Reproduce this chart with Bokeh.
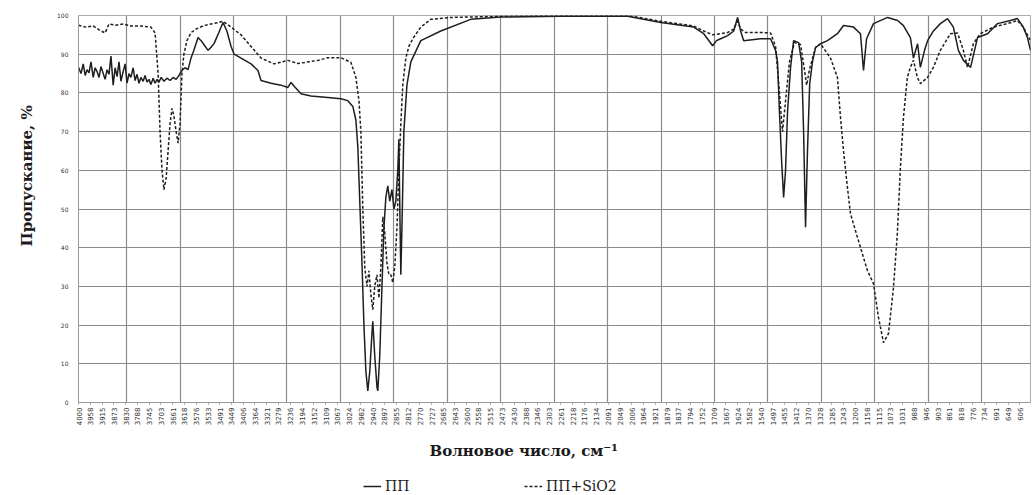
import math
from bokeh.plotting import figure
from bokeh.layouts import column
from bokeh.models import (Range1d, FixedTicker, NumeralTickFormatter, Legend,
                          LegendItem, Title)
from bokeh.embed import file_html
from bokeh.resources import INLINE

# ---- data: IR transmission spectra (wavenumber, cm-1 ; transmittance, %) ----
wn_pp = [4000, 3991, 3983, 3976, 3969, 3962, 3955, 3947, 3940, 3933, 3926, 3919,
         3911, 3904, 3897, 3890, 3883, 3875, 3868, 3861, 3854, 3847, 3839, 3832,
         3825, 3818, 3811, 3803, 3796, 3789, 3782, 3775, 3767, 3760, 3753, 3746,
         3739, 3731, 3724, 3717, 3710, 3702, 3692, 3681, 3670, 3659, 3648, 3638,
         3627, 3616, 3605, 3594, 3584, 3569, 3558, 3548, 3533, 3522, 3511, 3494,
         3479, 3465, 3450, 3439, 3414, 3378, 3353, 3342, 3306, 3270, 3245, 3234,
         3220, 3198, 3162, 3101, 3054, 3029, 3011, 3000, 2993, 2986, 2978, 2971,
         2964, 2957, 2950, 2942, 2939, 2932, 2924, 2921, 2914, 2906, 2899, 2892,
         2885, 2878, 2870, 2863, 2856, 2849, 2845, 2842, 2838, 2834, 2827, 2816,
         2802, 2766, 2694, 2586, 2478, 2261, 2020, 1901, 1782, 1746, 1714, 1700,
         1685, 1660, 1638, 1624, 1613, 1602, 1541, 1505, 1487, 1480, 1473, 1465,
         1458, 1451, 1444, 1433, 1422, 1404, 1393, 1386, 1379, 1372, 1364, 1354,
         1343, 1325, 1300, 1264, 1242, 1206, 1181, 1170, 1159, 1134, 1083, 1047,
         1026, 1001, 990, 975, 965, 950, 939, 918, 893, 867, 846, 828, 810, 784,
         759, 723, 687, 640, 615, 594, 579, 568]
t_pp = [86.6, 85.0, 87.5, 84.5, 86.0, 85.2, 88.0, 84.0, 86.5, 85.5, 84.0, 86.8,
        85.0, 83.5, 86.0, 84.8, 89.5, 82.0, 86.5, 84.2, 88.0, 83.0, 85.5, 87.5,
        82.5, 85.0, 84.0, 86.5, 83.2, 84.8, 82.5, 84.0, 83.0, 84.5, 82.8, 83.5,
        82.2, 83.8, 82.5, 83.5, 82.8, 84.0, 83.0, 83.8, 83.2, 84.0, 83.5, 84.5,
        85.8, 86.5, 86.0, 89.1, 91.0, 94.3, 93.5, 92.5, 91.0, 91.8, 92.8, 95.6,
        98.2, 96.0, 92.0, 90.0, 89.0, 87.5, 85.8, 83.2, 82.5, 82.0, 81.4, 82.7,
        81.5, 79.8, 79.2, 78.8, 78.5, 78.0, 76.5, 73.0, 66.0, 52.0, 36.0, 20.0,
        8.0, 3.0, 8.0, 18.0, 21.0, 12.0, 4.0, 3.0, 12.0, 30.0, 45.0, 53.0,
        56.0, 52.0, 55.0, 50.0, 52.0, 60.0, 68.0, 52.0, 33.0, 45.0, 70.0, 82.0,
        88.0, 93.5, 96.0, 99.0, 99.6, 99.8, 99.8, 98.2, 97.0, 95.3, 92.2, 93.5,
        94.0, 94.8, 96.0, 99.5, 96.0, 93.5, 94.0, 94.0, 91.0, 88.0, 75.0, 62.0,
        53.0, 60.0, 75.0, 86.6, 93.5, 93.0, 88.0, 70.0, 45.3, 65.0, 82.4, 88.0,
        91.7, 92.7, 93.5, 95.3, 97.4, 97.0, 95.3, 85.8, 94.0, 97.9, 99.5, 98.7,
        97.4, 94.3, 89.0, 92.7, 86.6, 91.0, 93.5, 96.0, 97.9, 99.2, 97.0, 91.0,
        88.4, 86.6, 94.3, 95.3, 97.9, 98.7, 99.2, 97.0, 94.3, 91.0]

wn_si = [4000, 3973, 3947, 3919, 3904, 3890, 3865, 3839, 3811, 3775, 3739, 3724,
         3713, 3706, 3699, 3692, 3684, 3677, 3670, 3663, 3656, 3648, 3641, 3634,
         3627, 3620, 3609, 3594, 3576, 3548, 3522, 3494, 3479, 3450, 3414, 3378,
         3342, 3295, 3245, 3209, 3137, 3101, 3054, 3018, 3000, 2989, 2982, 2975,
         2968, 2960, 2953, 2946, 2939, 2932, 2924, 2917, 2910, 2903, 2896, 2888,
         2881, 2874, 2867, 2860, 2852, 2845, 2838, 2831, 2820, 2809, 2795, 2766,
         2730, 2658, 2478, 2262, 2020, 1901, 1782, 1746, 1714, 1685, 1660, 1638,
         1624, 1613, 1595, 1541, 1505, 1487, 1473, 1462, 1451, 1437, 1419, 1397,
         1383, 1375, 1365, 1343, 1325, 1289, 1264, 1253, 1242, 1228, 1217, 1192,
         1156, 1134, 1116, 1098, 1080, 1062, 1048, 1037, 1026, 1012, 1001, 990,
         976, 965, 939, 918, 893, 857, 831, 810, 795, 774, 749, 702, 651, 615,
         594, 568]
t_si = [97.5, 97.0, 97.3, 96.0, 95.5, 97.8, 97.5, 97.8, 97.3, 97.3, 97.0, 95.5,
        85.0, 70.0, 60.0, 55.0, 58.0, 65.0, 72.0, 76.0, 74.0, 70.0, 67.0, 72.0,
        85.0, 90.0, 93.5, 95.6, 96.5, 97.4, 97.8, 98.2, 98.5, 97.0, 95.0, 92.0,
        89.0, 87.5, 88.4, 87.6, 88.4, 89.1, 89.1, 87.9, 84.0, 78.0, 70.0, 50.0,
        35.0, 30.0, 34.0, 28.0, 24.0, 30.0, 33.0, 27.0, 35.0, 48.0, 44.0, 36.0,
        33.0, 33.0, 31.0, 35.0, 45.0, 60.0, 72.0, 82.0, 89.0, 92.0, 94.0, 97.0,
        99.0, 99.5, 99.8, 100.0, 100.0, 98.5, 97.3, 96.0, 95.0, 95.3, 95.6, 96.5,
        98.5, 96.5, 95.6, 95.6, 95.5, 92.0, 80.0, 70.0, 78.0, 88.0, 93.0, 92.5,
        86.0, 82.0, 86.0, 91.7, 92.7, 89.0, 84.0, 73.7, 65.0, 55.6, 48.8, 42.7,
        34.1, 30.7, 22.0, 15.5, 17.8, 29.7, 43.7, 60.7, 73.7, 84.0, 86.6, 88.4,
        84.0, 82.4, 84.0, 86.6, 91.0, 95.3, 95.5, 91.0, 86.6, 92.7, 95.3, 97.0,
        97.9, 98.7, 97.0, 93.5]

# category-style axis labels (wavenumbers) and grid positions
x_tick_labels = [4000, 3958, 3915, 3873, 3830, 3788, 3745, 3703, 3661, 3618, 3576,
                 3533, 3491, 3449, 3406, 3364, 3321, 3279, 3236, 3194, 3152, 3109,
                 3067, 3024, 2982, 2940, 2897, 2855, 2812, 2770, 2727, 2685, 2643,
                 2600, 2558, 2515, 2473, 2430, 2388, 2346, 2303, 2261, 2218, 2176,
                 2134, 2091, 2049, 2006, 1964, 1921, 1879, 1837, 1794, 1752, 1709,
                 1667, 1624, 1582, 1540, 1497, 1455, 1412, 1370, 1328, 1285, 1243,
                 1200, 1158, 1115, 1073, 1031, 988, 946, 903, 861, 818, 776, 734,
                 691, 649, 606]
x_grid = [3827, 3634, 3441, 3249, 3056, 2863, 2671, 2478, 2285, 2093, 1900, 1707,
          1515, 1322, 1129, 937, 744]
y_ticks = [0, 10, 20, 30, 40, 50, 60, 70, 80, 90, 100]

x_title = "Волновое число, см⁻¹"
y_title = "Пропускание, %"
names = ["ПП", "ПП+SiO2"]

LINE_COLOR = "#1e1e1e"
DASH = "3 2"

p = figure(width=1034, height=472, x_range=Range1d(4000, 568), y_range=Range1d(0, 100),
           output_backend="svg", toolbar_location=None,
           min_border_left=77, min_border_right=4, min_border_top=15, min_border_bottom=70)
p.background_fill_color = "white"
p.border_fill_color = "white"
p.outline_line_color = "#aaaaaa"

r_pp = p.line(wn_pp, t_pp, line_color=LINE_COLOR, line_width=1.5)
r_si = p.line(wn_si, t_si, line_color=LINE_COLOR, line_width=1.5, line_dash=DASH)

# x axis
xa = p.xaxis[0]
xa.ticker = FixedTicker(ticks=x_tick_labels)
xa.formatter = NumeralTickFormatter(format="0")
xa.major_label_orientation = math.pi / 2
xa.major_label_text_font = "DejaVu Sans"
xa.major_label_text_font_size = "7px"
xa.major_label_text_color = "#333333"
xa.major_label_standoff = 3
xa.major_tick_out = 2
xa.major_tick_in = 0
xa.minor_tick_out = 0
xa.minor_tick_in = 0
xa.axis_line_color = "#999999"
xa.major_tick_line_color = "#999999"

# y axis
ya = p.yaxis[0]
ya.ticker = FixedTicker(ticks=y_ticks)
ya.major_label_text_font = "DejaVu Sans"
ya.major_label_text_font_size = "6px"
ya.major_label_text_color = "#333333"
ya.major_label_standoff = 6
ya.major_tick_out = 4
ya.major_tick_in = 0
ya.major_tick_line_color = None
ya.minor_tick_out = 0
ya.minor_tick_in = 0
ya.axis_line_color = "#999999"

# grids
p.xgrid.ticker = FixedTicker(ticks=x_grid)
p.xgrid.grid_line_color = "#8a8a8a"
p.xgrid.grid_line_width = 1.2
p.ygrid.ticker = FixedTicker(ticks=y_ticks)
p.ygrid.grid_line_color = "#8a8a8a"
p.ygrid.grid_line_width = 1.2

# titles
yt = Title(text=y_title, align="left", offset=156, standoff=34, vertical_align="top",
           text_font="DejaVu Serif", text_font_size="15px", text_font_style="bold",
           text_color="#1a1a1a")
p.add_layout(yt, "left")
xt = Title(text=x_title, align="left", offset=351, standoff=22,
           text_font="DejaVu Serif", text_font_size="15px", text_font_style="bold",
           text_color="#1a1a1a")
p.add_layout(xt, "below")

# legend strip beneath the chart (series drawn off-range there, only legend shows)
pl = figure(width=1034, height=23, x_range=Range1d(0, 1), y_range=Range1d(0, 1),
            output_backend="svg", toolbar_location=None, x_axis_type=None,
            y_axis_type=None, min_border=0)
pl.outline_line_color = None
pl.xgrid.visible = False
pl.ygrid.visible = False
lg_pp = pl.line(wn_pp, t_pp, line_color=LINE_COLOR, line_width=1.5)
lg_si = pl.line(wn_si, t_si, line_color=LINE_COLOR, line_width=1.5, line_dash=DASH)
legend = Legend(items=[LegendItem(label=names[0], renderers=[lg_pp]),
                       LegendItem(label=names[1], renderers=[lg_si])],
                orientation="horizontal", location=(284, 0), spacing=39,
                label_width=100,
                glyph_width=18, glyph_height=10, label_standoff=4,
                label_text_font="DejaVu Serif", label_text_font_size="14px",
                label_text_color="#1a1a1a",
                padding=1, margin=0, border_line_alpha=0, background_fill_alpha=0)
pl.add_layout(legend, "center")

layout = column(p, pl, spacing=0)
open("out.html", "w").write(file_html(layout, INLINE))
